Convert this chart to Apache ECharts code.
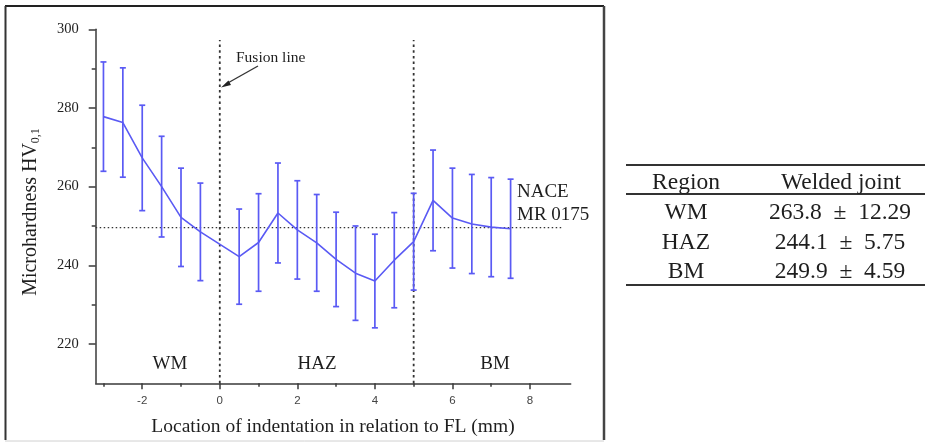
<!DOCTYPE html>
<html>
<head>
<meta charset="utf-8">
<title>Microhardness</title>
<script src="https://cdn.jsdelivr.net/npm/echarts@6/dist/echarts.min.js"></script>
<style>
html,body{margin:0;padding:0;background:#fff;}
#main{width:925px;height:442px;}
</style>
</head>
<body>
<div id="main"></div>
<script>
// distance from fusion line (mm)
var xPos = [-3, -2.5, -2, -1.5, -1, -0.5, 0.5, 1, 1.5, 2, 2.5, 3, 3.5, 4, 4.5, 5, 5.5, 6, 6.5, 7, 7.5];
// mean hardness HV0,1
var hvMean = [277.8, 276.3, 267.3, 260, 252.2, 248.5, 242.2, 245.8, 253.3, 249, 245.7, 241.5, 238, 236, 241.3, 246, 256.5, 252, 250.5, 249.7, 249.3];
// standard deviation
var hvSd = [13.9, 13.9, 13.4, 12.8, 12.5, 12.4, 12.1, 12.4, 12.7, 12.5, 12.3, 12, 12, 11.9, 12.1, 12.3, 12.8, 12.7, 12.6, 12.6, 12.6];

var xLabels = [-2, 0, 2, 4, 6, 8];
var xMinor = [-3, -1, 1, 3, 5, 7];
var yLabels = [220, 240, 260, 280, 300];
var yMinor = [230, 250, 270, 290];

var zoneBounds = [0, 5];
var naceLimit = 249.6;

var tblRegion = ['WM', 'HAZ', 'BM'];
var tblMean = ['263.8', '244.1', '249.9'];
var tblSd = ['12.29', '5.75', '4.59'];

var blue = '#5a5af4';
var serif = '"Liberation Serif", "DejaVu Serif", serif';

function init(){
	var myChart = echarts.init(document.getElementById('main'), null, {renderer: 'canvas'});

	var lineData = [];
	var errData = [];
	for (var i = 0; i < xPos.length; i++) {
		lineData.push([xPos[i], hvMean[i]]);
		errData.push([xPos[i], hvMean[i] - hvSd[i], hvMean[i] + hvSd[i]]);
	}

	var series = [
		{
			type: 'custom',
			silent: true,
			renderItem: function (params, api) {
				var x = api.value(0);
				var lo = api.coord([x, api.value(1)]);
				var hi = api.coord([x, api.value(2)]);
				var st = {stroke: blue, lineWidth: 1.7};
				return {
					type: 'group',
					children: [
						{type: 'line', shape: {x1: lo[0], y1: lo[1], x2: hi[0], y2: hi[1]}, style: st},
						{type: 'line', shape: {x1: lo[0] - 3, y1: lo[1], x2: lo[0] + 3, y2: lo[1]}, style: st},
						{type: 'line', shape: {x1: hi[0] - 3, y1: hi[1], x2: hi[0] + 3, y2: hi[1]}, style: st}
					]
				};
			},
			encode: {x: 0, y: [1, 2]},
			data: errData,
			z: 3
		},
		{
			type: 'line',
			data: lineData,
			symbol: 'none',
			lineStyle: {color: blue, width: 1.6},
			silent: true,
			z: 4
		},
		{
			type: 'line',
			data: [[-3.2, naceLimit], [8.85, naceLimit]],
			symbol: 'none',
			lineStyle: {color: '#333', width: 1.2, type: [1.5, 2.5]},
			silent: true,
			z: 2
		}
	];
	for (var k = 0; k < zoneBounds.length; k++) {
		series.push({
			type: 'line',
			data: [[zoneBounds[k], 210], [zoneBounds[k], 297.3]],
			symbol: 'none',
			lineStyle: {color: '#333', width: 1.8, type: [2.5, 3.2]},
			silent: true,
			z: 2
		});
	}

	var axisCol = '#3a3a3a';

	var option = {
		animation: false,
		backgroundColor: '#fff',
		grid: {left: 95.7, top: 29.3, width: 475, height: 354},
		xAxis: [
			{
				type: 'value', min: -3.2, max: 9.05,
				axisLine: {onZero: false, lineStyle: {color: axisCol, width: 1.5}},
				axisTick: {customValues: xLabels, length: 6, lineStyle: {color: axisCol, width: 1.5}},
				axisLabel: {customValues: xLabels, margin: 12, color: '#444', fontSize: 11.5, fontFamily: 'Liberation Sans'},
				splitLine: {show: false}
			},
			{
				type: 'value', min: -3.2, max: 9.05, position: 'bottom',
				axisLine: {show: false, onZero: false},
				axisTick: {customValues: xMinor, length: 3.5, lineStyle: {color: axisCol, width: 1.5}},
				axisLabel: {show: false},
				splitLine: {show: false}
			}
		],
		yAxis: [
			{
				type: 'value', min: 210, max: 300,
				axisLine: {show: true, onZero: false, lineStyle: {color: axisCol, width: 1.5}},
				axisTick: {show: true, customValues: yLabels, length: 7, lineStyle: {color: axisCol, width: 1.5}},
				axisLabel: {customValues: yLabels, margin: 17, color: '#222', fontSize: 14.5, fontFamily: serif},
				splitLine: {show: false}
			},
			{
				type: 'value', min: 210, max: 300, position: 'left',
				axisLine: {show: false, onZero: false},
				axisTick: {show: true, customValues: yMinor, length: 4, lineStyle: {color: axisCol, width: 1.5}},
				axisLabel: {show: false},
				splitLine: {show: false}
			}
		],
		series: series,
		graphic: buildGraphic()
	};

	myChart.setOption(option);
}

function buildGraphic(){
	var g = [];
	var txt = '#1e1e1e';
	// frame
	g.push({type: 'line', shape: {x1: 5, y1: 6, x2: 604, y2: 6}, style: {stroke: '#222', lineWidth: 2}});
	g.push({type: 'line', shape: {x1: 5.5, y1: 6, x2: 5.5, y2: 440}, style: {stroke: '#333', lineWidth: 2}});
	g.push({type: 'line', shape: {x1: 604, y1: 6, x2: 604, y2: 440}, style: {stroke: '#444', lineWidth: 2.5}});
	g.push({type: 'line', shape: {x1: 5, y1: 441, x2: 604, y2: 441}, style: {stroke: '#d0d0d0', lineWidth: 1}});

	// axis names
	g.push({
		type: 'text', x: 31, y: 212, rotation: Math.PI / 2,
		style: {
			text: '{m|Microhardness HV}{s|0,1}',
			align: 'center', verticalAlign: 'middle',
			rich: {
				m: {fontSize: 20, fontFamily: serif, fill: txt},
				s: {fontSize: 12, fontFamily: serif, fill: txt, padding: [10, 0, 0, 0]}
			}
		}
	});
	g.push({
		type: 'text', x: 333, y: 427,
		style: {text: 'Location of indentation in relation to FL (mm)', align: 'center', verticalAlign: 'middle',
			fontSize: 19.5, fontFamily: serif, fill: txt}
	});

	// zone labels
	var zl = [['WM', 170], ['HAZ', 317], ['BM', 495]];
	for (var i = 0; i < zl.length; i++) {
		g.push({type: 'text', x: zl[i][1], y: 364,
			style: {text: zl[i][0], align: 'center', verticalAlign: 'middle', fontSize: 19, fontFamily: serif, fill: txt}});
	}

	// fusion line note + arrow
	g.push({type: 'text', x: 236, y: 58,
		style: {text: 'Fusion line', align: 'left', verticalAlign: 'middle', fontSize: 15.5, fontFamily: serif, fill: txt}});
	g.push({type: 'line', shape: {x1: 258, y1: 66, x2: 226, y2: 84}, style: {stroke: '#333', lineWidth: 1.4}});
	g.push({type: 'polygon', shape: {points: [[221, 87.5], [228.5, 80.5], [231, 85]]}, style: {fill: '#222'}});

	// NACE label
	g.push({type: 'text', x: 517, y: 192,
		style: {text: 'NACE', align: 'left', verticalAlign: 'middle', fontSize: 19, fontFamily: serif, fill: txt}});
	g.push({type: 'text', x: 517, y: 215,
		style: {text: 'MR 0175', align: 'left', verticalAlign: 'middle', fontSize: 19, fontFamily: serif, fill: txt}});

	// table
	g.push({type: 'line', shape: {x1: 626, y1: 165, x2: 925, y2: 165}, style: {stroke: '#333', lineWidth: 2}});
	g.push({type: 'line', shape: {x1: 626, y1: 194, x2: 925, y2: 194}, style: {stroke: '#333', lineWidth: 2}});
	g.push({type: 'line', shape: {x1: 626, y1: 285, x2: 925, y2: 285}, style: {stroke: '#333', lineWidth: 2}});
	g.push({type: 'text', x: 686, y: 183,
		style: {text: 'Region', align: 'center', verticalAlign: 'middle', fontSize: 23.5, fontFamily: serif, fill: txt}});
	g.push({type: 'text', x: 841, y: 183,
		style: {text: 'Welded joint', align: 'center', verticalAlign: 'middle', fontSize: 23.5, fontFamily: serif, fill: txt}});
	var rowY = [213, 243, 272];
	for (var r = 0; r < tblRegion.length; r++) {
		g.push({type: 'text', x: 686, y: rowY[r],
			style: {text: tblRegion[r], align: 'center', verticalAlign: 'middle', fontSize: 23.5, fontFamily: serif, fill: txt}});
		g.push({type: 'text', x: 840, y: rowY[r],
			style: {text: tblMean[r] + '\u2002\u00b1\u2002' + tblSd[r], align: 'center', verticalAlign: 'middle', fontSize: 23.5, fontFamily: serif, fill: txt}});
	}
	return g;
}

init();
</script>
</body>
</html>
